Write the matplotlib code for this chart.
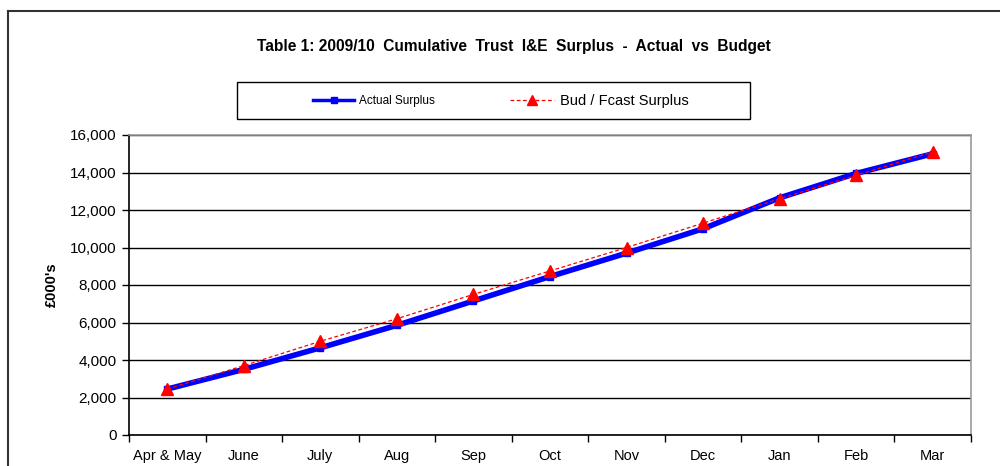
import matplotlib
matplotlib.use("Agg")
import matplotlib.pyplot as plt
from matplotlib.lines import Line2D
from matplotlib.patches import Rectangle
from matplotlib.ticker import FuncFormatter, FixedLocator

plt.rcParams['font.family'] = ['Liberation Sans', 'DejaVu Sans']

months = ["Apr & May", "June", "July", "Aug", "Sep", "Oct", "Nov", "Dec", "Jan", "Feb", "Mar"]
actual = [2450, 3500, 4650, 5850, 7150, 8450, 9700, 11000, 12650, 13950, 15000]
budget = [2450, 3700, 5000, 6200, 7500, 8750, 10000, 11300, 12600, 13850, 15100]
title = "Table 1: 2009/10  Cumulative  Trust  I&E  Surplus  -  Actual  vs  Budget"
ylabel = "£000's"
yticks = [0, 2000, 4000, 6000, 8000, 10000, 12000, 14000, 16000]

W, H = 1000, 466
fig = plt.figure(figsize=(W / 100, H / 100), dpi=100)

def fx(px):
    return px / W

def fy(py):
    return 1 - py / H

ax = fig.add_axes([fx(129), fy(435), fx(971) - fx(129), fy(135) - fy(435)])
x = list(range(len(months)))
ax.plot(x, actual, color="#0000FF", lw=4.0, marker="s", ms=5, mec="#0000FF", mfc="#0000FF",
        solid_joinstyle="round", zorder=3, label="Actual Surplus")
ax.plot(x, budget, color="#FF0000", lw=0.9, ls=(0, (3, 2)), marker="^", ms=8, mec="#FF0000",
        mfc="#FF0000", zorder=4, label="Bud / Fcast Surplus")

ax.set_xlim(-0.5, len(months) - 0.5)
ax.set_ylim(0, 16000)
ax.set_yticks(yticks)
ax.yaxis.set_major_formatter(FuncFormatter(lambda v, p: f"{int(v):,}"))
ax.tick_params(axis='y', labelsize=11, length=5, direction='out', width=1, color='black', pad=4)
ax.set_xticks(x)
ax.set_xticklabels(months)
ax.xaxis.set_minor_locator(FixedLocator([i - 0.5 for i in range(len(months) + 1)]))
ax.tick_params(axis='x', which='major', length=0, labelsize=10.5, pad=10)
ax.tick_params(axis='x', which='minor', length=5, direction='out', width=1, color='black')
ax.grid(axis='y', color='black', lw=1)
ax.set_axisbelow(True)
for s in ['left', 'bottom']:
    ax.spines[s].set_color('black')
    ax.spines[s].set_linewidth(1.2)
for s in ['top', 'right']:
    ax.spines[s].set_color('#999999')
    ax.spines[s].set_linewidth(1.2)

fig.text(fx(52), fy(285), ylabel, rotation=90, ha='center', va='center', fontsize=10.5, fontweight='bold')
fig.text(fx(514), fy(47), title, ha='center', va='center', fontsize=11.2, fontweight='bold')

# legend frame
fig.add_artist(Rectangle((fx(237), fy(119)), fx(750) - fx(237), fy(82) - fy(119),
                         transform=fig.transFigure, fill=False, ec='black', lw=1))
h1 = Line2D([], [], color="#0000FF", lw=2.5, marker="s", ms=4, mfc="#0000FF", mec="#0000FF")
h2 = Line2D([], [], color="#FF0000", lw=0.9, ls=(0, (3, 2)), marker="^", ms=7, mfc="#FF0000", mec="#FF0000")
leg1 = fig.legend([h1], ["Actual Surplus"], loc='center left', bbox_to_anchor=(fx(313), fy(101)),
                  frameon=False, fontsize=8.5, handlelength=3.5, handletextpad=0.4, borderaxespad=0, borderpad=0)
leg2 = fig.legend([h2], ["Bud / Fcast Surplus"], loc='center left', bbox_to_anchor=(fx(510), fy(101)),
                  frameon=False, fontsize=10.5, handlelength=3.0, handletextpad=0.4, borderaxespad=0, borderpad=0)

# outer chart border
fig.add_artist(Line2D([fx(8), 1.0], [fy(11), fy(11)], transform=fig.transFigure, color='#333333', lw=1.5))
fig.add_artist(Line2D([fx(8), fx(8)], [fy(11), 0.0], transform=fig.transFigure, color='#333333', lw=1.5))

fig.savefig("out.png", dpi=100)
